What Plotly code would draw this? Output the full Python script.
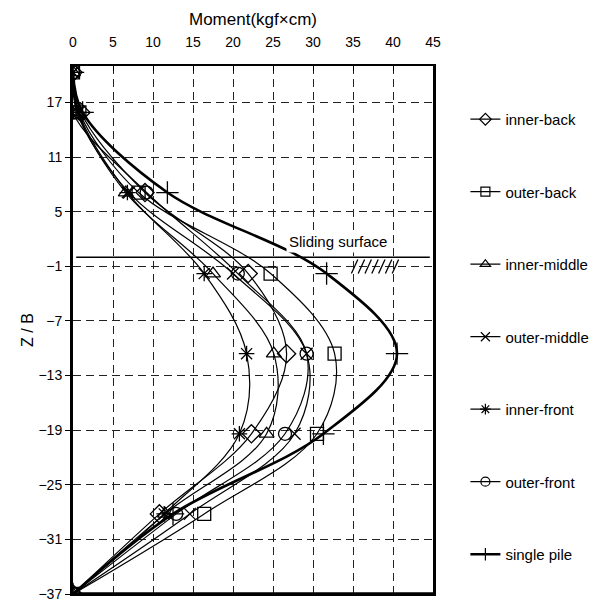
import plotly.graph_objects as go

# Depth ratio of each gauge position along the pile
z_over_b = [20.3, 15.9, 7.1, -1.8, -10.6, -19.4, -28.2, -37.0]

# Bending moment (kgf x cm) at each gauge, per pile position
inner_back = [0, 1.0, 9.0, 21.9, 26.7, 22.3, 10.8, 0]
outer_back = [0, 0.8, 8.2, 24.7, 32.7, 30.5, 16.4, 0]
inner_middle = [0, 0.6, 6.6, 17.5, 25.1, 24.2, 11.5, 0]
outer_middle = [0, 0.5, 7.0, 20.0, 29.2, 27.7, 14.6, 0]
inner_front = [0, 0.7, 6.8, 16.4, 21.7, 20.8, 11.4, 0]
outer_front = [0, 0.0, 9.2, 20.6, 29.2, 26.5, 12.9, 0]
single_pile = [0, 1.2, 11.8, 31.7, 40.5, 31.3, 12.5, 0]

series_names = ["inner-back", "outer-back", "inner-middle", "outer-middle",
                "inner-front", "outer-front", "single pile"]
series_values = [inner_back, outer_back, inner_middle, outer_middle,
                 inner_front, outer_front, single_pile]

x_ticks = [0, 5, 10, 15, 20, 25, 30, 35, 40, 45]
y_ticks = [17, 11, 5, -1, -7, -13, -19, -25, -31, -37]

SLIDING_Z = 0.0

styles = [
    dict(symbol="diamond-open", size=14, width=1.2),
    dict(symbol="square-open", size=13, width=1.2),
    dict(symbol="triangle-up-open", size=13, width=1.2),
    dict(symbol="x-thin-open", size=12, width=1.2),
    dict(symbol="asterisk-open", size=13, width=1.2),
    dict(symbol="circle-open", size=13, width=1.2),
    dict(symbol="cross-thin-open", size=16, width=2.6),
]

fig = go.Figure()

for name, vals, st in zip(series_names, series_values, styles):
    fig.add_trace(go.Scatter(
        x=vals, y=z_over_b, mode="lines+markers", name=name,
        showlegend=False,
        line=dict(color="black", width=st["width"], shape="spline", smoothing=1.0),
        marker=dict(symbol=st["symbol"], size=st["size"], color="black",
                    line=dict(color="black", width=1.3)),
    ))

# legend entries with smaller symbols
for name, st in zip(series_names, styles):
    fig.add_trace(go.Scatter(
        x=[None], y=[None], mode="lines+markers", name=name,
        legendgroup=name,
        line=dict(color="black", width=st["width"]),
        marker=dict(symbol=st["symbol"], size=9, color="black",
                    line=dict(color="black", width=1.2)),
    ))

shapes = [
    # sliding surface
    dict(type="line", xref="x", yref="y", x0=0.4, x1=44.6, y0=SLIDING_Z, y1=SLIDING_Z,
         line=dict(color="black", width=1.5), layer="above"),
    # heavier bottom frame
    dict(type="line", xref="paper", yref="paper", x0=0, x1=1, y0=0, y1=0,
         line=dict(color="black", width=3.5), layer="above"),
]
# hatching beneath the sliding surface
for i in range(7):
    x0 = 34.8 + 0.85 * i
    shapes.append(dict(type="line", xref="x", yref="y",
                       x0=x0, x1=x0 + 0.8, y0=SLIDING_Z - 1.8, y1=SLIDING_Z - 0.25,
                       line=dict(color="black", width=1.3), layer="above"))

fig.update_layout(
    width=614, height=613,
    margin=dict(l=73, r=181, t=66, b=11),
    paper_bgcolor="white", plot_bgcolor="white",
    font=dict(family="Liberation Sans, Arial, sans-serif", color="black", size=14),
    shapes=shapes,
    annotations=[dict(
        x=26.6, y=SLIDING_Z, xref="x", yref="y", xanchor="left", yanchor="bottom",
        yshift=4, text="Sliding surface", showarrow=False, bgcolor="white",
        borderpad=2, font=dict(size=15),
    )],
    legend=dict(
        x=1.09, y=0.93, xanchor="left", yanchor="top",
        traceorder="grouped", tracegroupgap=50,
        font=dict(size=15), bgcolor="rgba(0,0,0,0)", itemwidth=30,
    ),
    xaxis=dict(
        side="top", range=[0, 45], tickvals=x_ticks,
        ticks="inside", ticklen=5, tickcolor="black", ticklabelstandoff=11,
        showgrid=True, gridcolor="#222", gridwidth=1, griddash="8px,5px",
        showline=True, linecolor="black", linewidth=2, mirror=True,
        zeroline=False, tickfont=dict(size=14),
        title=dict(text="Moment(kgf×cm)", font=dict(size=17), standoff=4),
    ),
    yaxis=dict(
        range=[-37, 21], tickvals=y_ticks,
        ticks="outside", ticklen=5, tickcolor="black",
        showgrid=True, gridcolor="#222", gridwidth=1, griddash="8px,5px",
        showline=True, linecolor="black", linewidth=3, mirror=True,
        zeroline=False, tickfont=dict(size=14),
        title=dict(text="Z / B", font=dict(size=16), standoff=1),
    ),
)

fig.write_html("out.html")
